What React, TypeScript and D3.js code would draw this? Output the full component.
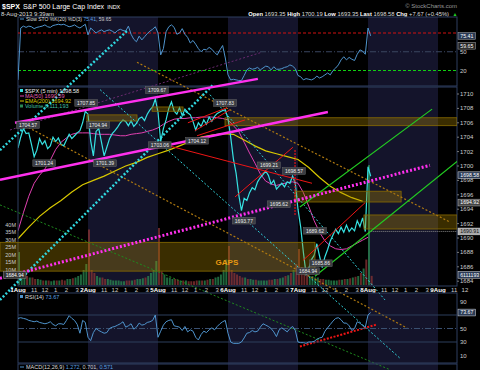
import * as d3 from 'd3'

// time axis: one step = 15 minutes, 26 steps per session (9:30 - 16:00)
const STEPS_PER_DAY = 26
const DAY_LABELS = ['1Aug', '2Aug', '5Aug', '6Aug', '7Aug', '8Aug', '9Aug']
const SHADED_DAYS = [1, 3, 5]
const HOUR_LABELS = ['11', '12', '1', '2', '3']
const HOUR_STEPS = [6, 10, 14, 18, 22]

// $SPX 15-min closes
const PRICE_1AUG = [1702.5, 1704.0, 1705.2, 1704.5, 1704.6, 1703.0, 1701.3, 1702.2, 1703.8, 1703.0, 1703.5, 1702.4, 1702.8, 1704.0, 1703.4, 1703.9, 1703.0, 1702.8, 1703.6, 1704.4, 1703.8, 1704.2, 1704.6, 1704.9, 1706.0, 1707.6]
const PRICE_2AUG = [1707.2, 1703.5, 1701.4, 1704.8, 1705.2, 1703.3, 1701.4, 1702.6, 1703.8, 1704.5, 1704.9, 1705.4, 1706.0, 1706.4, 1706.2, 1705.6, 1706.3, 1705.5, 1705.9, 1706.6, 1706.8, 1706.3, 1707.2, 1707.8, 1708.2, 1709.3]
const PRICE_5AUG = [1707.5, 1703.4, 1705.2, 1706.4, 1708.0, 1708.9, 1707.6, 1707.2, 1708.1, 1707.0, 1707.9, 1707.4, 1707.1, 1706.2, 1705.0, 1706.0, 1705.5, 1706.4, 1705.8, 1706.8, 1706.2, 1706.9, 1707.3, 1707.5, 1707.7, 1707.8]
const PRICE_6AUG = [1706.6, 1704.0, 1701.0, 1699.0, 1696.0, 1693.8, 1695.5, 1695.2, 1696.3, 1697.0, 1696.7, 1697.8, 1698.4, 1698.8, 1699.3, 1698.7, 1697.5, 1698.0, 1696.8, 1697.2, 1697.6, 1697.1, 1697.8, 1697.6, 1698.6, 1697.6]
const PRICE_7AUG = [1694.0, 1691.5, 1688.0, 1685.0, 1685.8, 1687.0, 1687.6, 1689.2, 1687.5, 1685.9, 1687.4, 1688.4, 1689.6, 1690.4, 1691.2, 1690.6, 1691.5, 1690.8, 1691.8, 1690.9, 1691.4, 1691.0, 1692.4, 1691.6, 1692.8, 1690.9]
const PRICE_8AUG = [1699.9, 1698.58]
const PRICE = [...PRICE_1AUG, ...PRICE_2AUG, ...PRICE_5AUG, ...PRICE_6AUG, ...PRICE_7AUG, ...PRICE_8AUG]

// volume, millions per 5-min bar
const VOL_1AUG = [22, 9, 7, 6, 5, 5, 4, 4, 3.5, 3, 3, 3, 2.5, 3, 3, 3, 3.5, 3, 4, 4, 4.5, 5, 6, 7, 10, 14]
const VOL_2AUG = [37, 10, 8, 6, 5, 5, 4, 4, 3.5, 3, 3, 3, 2.5, 2.5, 3, 3, 3, 3.5, 4, 4, 4.5, 5, 6, 8, 10, 16]
const VOL_5AUG = [38, 9, 7, 5, 5, 4, 4, 3.5, 3, 3, 3, 2.5, 2.5, 2.5, 3, 3, 3, 3, 3.5, 4, 4, 5, 5.5, 7, 10, 17]
const VOL_6AUG = [26, 10, 8, 7, 6, 5, 5, 4, 4, 3.5, 3.5, 3, 3, 3, 3, 3.5, 3.5, 4, 4, 4.5, 5, 6, 6.5, 8, 10, 14]
const VOL_7AUG = [24, 12, 9, 8, 6, 6, 5, 5, 4, 4, 3.5, 3.5, 3, 3, 3, 3.5, 3.5, 4, 4, 4.5, 5, 5.5, 6, 8, 11, 17]
const VOL_8AUG = [80, 6.1]
const VOLUME = [...VOL_1AUG, ...VOL_2AUG, ...VOL_5AUG, ...VOL_6AUG, ...VOL_7AUG, ...VOL_8AUG]
const VOL_TICKS = [10, 15, 20, 25, 30, 35, 40]

// MA(50), one value every 2 steps
const MA_STEP = 2
const MA50 = [1691.0, 1693.5, 1695.8, 1697.6, 1698.7, 1699.6, 1700.8, 1702.3, 1703.3, 1703.9, 1704.4, 1704.6, 1704.6, 1704.6, 1704.5, 1704.4, 1704.4, 1704.4, 1704.3, 1704.2, 1704.2, 1704.4, 1704.5, 1704.6, 1704.8, 1705.0, 1705.3, 1705.8, 1706.2, 1706.5, 1706.6, 1706.6, 1706.7, 1706.7, 1706.8, 1706.8, 1706.8, 1706.7, 1706.6, 1706.4, 1705.6, 1704.8, 1703.3, 1701.8, 1700.4, 1698.9, 1697.9, 1697.5, 1697.3, 1697.5, 1697.7, 1697.8, 1697.6, 1696.3, 1694.4, 1692.4, 1690.8, 1689.6, 1688.9, 1688.5, 1688.4, 1688.5, 1688.9, 1689.3, 1689.7, 1690.1]
// EMA(200), one value every 4 steps
const EMA_STEP = 4
const EMA200 = [1689.9, 1691.5, 1693.0, 1694.2, 1695.2, 1696.4, 1697.4, 1698.0, 1698.6, 1699.3, 1700.0, 1700.5, 1701.2, 1701.7, 1702.2, 1702.8, 1703.4, 1704.0, 1704.3, 1704.5, 1704.4, 1703.6, 1702.8, 1702.1, 1701.7, 1701.3, 1700.9, 1699.8, 1698.4, 1697.2, 1696.3, 1695.6, 1695.1]

const STO = [
  5, 88, 91, 89, 91, 90, 87, 89, 90, 91, 93, 90, 89, 92, 93, 94, 93, 94, 92, 90, 91, 93, 90, 88, 91, 94,
  77, 88, 84, 80, 83, 85, 82, 84, 85, 83, 80, 84, 86, 84, 83, 91, 78, 70, 66, 75, 69, 74, 79, 83, 86, 90,
  80, 45, 55, 82, 90, 93, 89, 78, 80, 87, 78, 73, 64, 68, 62, 55, 50, 54, 53, 57, 54, 49, 45, 53, 60, 40,
  13, 5, 6, 5, 4, 4, 12, 21, 24, 22, 23, 25, 21, 24, 27, 26, 21, 26, 22, 22, 23, 25, 26, 29, 27, 23,
  12, 10, 5, 7, 6, 5, 7, 11, 8, 10, 13, 16, 13, 20, 24, 29, 37, 42, 37, 41, 38, 36, 46, 53, 51, 46,
  88, 75.41
]
const RSI = [
  65, 66, 65, 64, 62, 61, 60, 61, 59, 58, 57, 58, 60, 56, 54, 57, 57, 56, 62, 69, 65, 62, 56, 43, 62, 59,
  37, 32, 44, 50, 47, 45, 43, 44, 50, 52, 53, 55, 57, 60, 52, 54, 57, 49, 52, 58, 55, 56, 59, 60, 62, 70,
  37, 46, 55, 60, 62, 63, 54, 53, 52, 47, 53, 45, 48, 46, 37, 33, 41, 46, 44, 48, 51, 48, 53, 57, 60, 62,
  43, 30, 28, 28, 28, 30, 36, 43, 44, 47, 45, 46, 52, 57, 55, 53, 50, 45, 38, 48, 51, 48, 45, 50, 53, 47,
  30, 29, 29, 28, 30, 30, 31, 34, 36, 37, 46, 51, 56, 61, 65, 66, 63, 58, 58, 54, 47, 50, 60, 58, 54, 52,
  70, 73.67
]

const PRICE_TICKS = d3.range(1684, 1711, 2)
const STO_TICKS = [50, 20]
const RSI_TICKS = [90, 50, 30, 10]

// hand-drawn annotations, [step, price]
const LINES_MAGENTA = [[[-1.1, 1706.0], [89.1, 1712.1]], [[-6.7, 1698.1], [115.1, 1707.5]]]
const LINES_MAGENTA_DOTS = [[[-6.7, 1684.4], [153.0, 1700.1]]]
const LINES_PURPLE = [[[-3.0, 1705.0], [90.6, 1715.8]]]
const LINES_CYAN_THICK = [[[-6.7, 1702.2], [40.9, 1718.9]], [[-6.7, 1681.4], [72.8, 1711.4]]]
const LINES_CYAN_THIN = [[[30.5, 1710.6], [141.9, 1673.3]], [[71.3, 1709.9], [136.3, 1681.4]]]
const LINES_ORANGE = [[[2.6, 1705.6], [144.5, 1677.5]], [[44.2, 1714.4], [160.5, 1692.2]]]
const LINES_DKGREEN = [[[-6.7, 1694.6], [138.2, 1671.7]]]
const LINES_GREEN = [[[104.7, 1694.3], [153.8, 1707.9]], [[110.3, 1684.7], [171.6, 1703.2]]]
const LINES_RED = [
  [[52.0, 1703.2], [109.2, 1697.6]], [[80.6, 1695.7], [102.1, 1702.6]],
  [[63.1, 1706.0], [77.6, 1708.1]], [[65.7, 1704.9], [78.7, 1707.8]], [[66.5, 1704.2], [84.3, 1706.4]],
  [[105.9, 1686.9], [128.9, 1694.9]]
]
const LINE_RED_MARK = [[102.9, 1702.2], [102.9, 1693.2]]
const LINE_RSI_RED = [[104.7, 23.3], [133.3, 55.9]]

// [fromStep, toStep, topPrice, bottomPrice]
const GAP_ZONES = [
  [-6.7, 110.3, 1689.4, 1685.4], [25.6, 44.2, 1707.1, 1706.25], [49.8, 61.3, 1708.2, 1707.6],
  [76.9, 163.1, 1706.7, 1705.6], [102.9, 142.3, 1696.5, 1695.0], [128.5, 163.1, 1693.2, 1691.25]
]

// [step, price, text]
const PRICE_NOTES = [
  [3.7, 1705.7, '1704.57'], [25.3, 1708.75, '1707.85'], [29.7, 1705.7, '1704.94'], [9.7, 1700.4, '1701.24'],
  [32.3, 1700.4, '1701.39'], [51.6, 1710.55, '1709.67'], [76.9, 1708.75, '1707.83'], [52.7, 1702.9, '1703.06'],
  [66.5, 1703.5, '1704.12'], [83.9, 1692.4, '1693.77'], [93.2, 1700.1, '1699.21'], [102.5, 1699.3, '1698.57'],
  [96.9, 1694.7, '1695.62'], [110.3, 1691.0, '1689.62'], [112.5, 1686.5, '1685.86'], [107.7, 1685.4, '1684.94']
]

const LAST_PRICE = 1698.58
const LAST_EMA = 1694.92
const PREV_CLOSE = 1690.91
const LAST_VOL = 6.111193
const LAST_STO = [75.41, 59.65]
const LAST_RSI = 73.67

const FONT = 'Liberation Sans, Arial, sans-serif'
const L = 18
const R = 457

function Tag({ x, y, text, anchor = 'middle', fill = '#333', stroke = '#999', color = '#fff', size = 5 }) {
  const w = text.length * size * 0.56 + 3
  const h = size + 1.6
  const left = anchor === 'middle' ? x - w / 2 : anchor === 'end' ? x - w : x
  return (
    <g>
      <rect x={left} y={y - h / 2} width={w} height={h} fill={fill} stroke={stroke} strokeWidth={0.5} />
      <text x={left + w / 2} y={y + size * 0.36} textAnchor="middle" fontSize={size} fill={color}>{text}</text>
    </g>
  )
}

export default function App() {
  const x = d3.scaleLinear().domain([0, STEPS_PER_DAY]).range([L, 88])
  const yP = d3.scaleLinear().domain([1684, 1710]).range([281.2, 94])
  const yV = d3.scaleLinear().domain([0, 40]).range([285, 225])
  const yS = d3.scaleLinear().domain([20, 80]).range([70.5, 33])
  const yR = d3.scaleLinear().domain([30, 70]).range([342, 315])

  const priceLine = d3.line<number>().x((_, i) => x(i)).y(d => yP(d))
  const maLine = d3.line<number>().x((_, i) => x(i * MA_STEP)).y(d => yP(d))
  const emaLine = d3.line<number>().x((_, i) => x(i * EMA_STEP)).y(d => yP(d))
  const stoLine = d3.line<number>().x((_, i) => x(i)).y(d => yS(d))
  const rsiLine = d3.line<number>().x((_, i) => x(i)).y(d => yR(d))
  const seg = d3.line<number[]>().x(d => x(d[0])).y(d => yP(d[1]))
  const rsiSeg = d3.line<number[]>().x(d => x(d[0])).y(d => yR(d[1]))

  const dayW = x(STEPS_PER_DAY) - x(0)
  const barW = x(1) - x(0) - 0.7

  const panelStroke = '#2f3f60'
  const trend = (lines, props) => lines.map((l, i) => <path key={i} d={seg(l)} fill="none" {...props} />)

  return (
    <svg width={480} height={370} style={{ display: 'block', background: '#000' }} fontFamily={FONT}>
      <style>{`body{margin:0}`}</style>
      <defs>
        <clipPath id="main"><rect x={L} y={87} width={R - L} height={199} /></clipPath>
        <clipPath id="sto"><rect x={L} y={17} width={R - L} height={69} /></clipPath>
        <clipPath id="rsi"><rect x={L} y={293} width={R - L} height={70} /></clipPath>
        <clipPath id="ann"><rect x={0} y={17} width={R} height={353} /></clipPath>
      </defs>
      <rect width={480} height={370} fill="#000" />

      {/* day shading */}
      {SHADED_DAYS.map(d => (
        <g key={d}>
          <rect x={x(d * STEPS_PER_DAY)} y={17} width={dayW} height={69} fill="#14142b" />
          <rect x={x(d * STEPS_PER_DAY)} y={87} width={dayW} height={199} fill="#14142b" />
          <rect x={x(d * STEPS_PER_DAY)} y={293} width={dayW} height={77} fill="#14142b" />
        </g>
      ))}

      {/* header */}
      <text x={2} y={9} fontSize={7} fill="#fff">
        <tspan fontWeight="bold">$SPX</tspan>
        <tspan dx={3}>S&amp;P 500 Large Cap Index</tspan>
        <tspan dx={3} fontSize={5.5}>INDX</tspan>
      </text>
      <text x={1} y={16} fontSize={6} fill="#ddd">8-Aug-2013 9:39am</text>
      <text x={457} y={8} fontSize={6} fill="#999" textAnchor="end">© StockCharts.com</text>
      <text x={449} y={15.5} fontSize={5.8} fill="#ddd" textAnchor="end">
        <tspan fontWeight="bold" fill="#fff">Open</tspan> 1693.35 <tspan fontWeight="bold" fill="#fff">High</tspan> 1700.19 <tspan fontWeight="bold" fill="#fff">Low</tspan> 1693.35 <tspan fontWeight="bold" fill="#fff">Last</tspan> 1698.58 <tspan fontWeight="bold" fill="#fff">Chg</tspan> +7.67 (+0.45%)
      </text>
      <text x={455} y={15.5} fontSize={5} fill="#2c2" textAnchor="middle">▲</text>

      {/* STO panel */}
      <rect x={L} y={17} width={R - L} height={69} fill="none" stroke={panelStroke} />
      <line x1={L} x2={R} y1={yS(80)} y2={yS(80)} stroke="#d01010" strokeDasharray="3,2" />
      <line x1={L} x2={R} y1={yS(50)} y2={yS(50)} stroke="#3a4660" strokeDasharray="6,2,1,2" />
      <line x1={L} x2={R} y1={yS(20)} y2={yS(20)} stroke="#10d010" strokeDasharray="3,2" />
      <path d={stoLine(STO)} fill="none" stroke="#4f94cd" strokeWidth={1} clipPath="url(#sto)" />
      <rect x={20} y={18.5} width={4} height={1} fill="#4f94cd" />
      <text x={26} y={21} fontSize={5} fill="#ddd">Slow STO %K(20) %D(3) <tspan fill="#5aa0e0">{LAST_STO[0]}</tspan>, <tspan fill="#ccc">{LAST_STO[1]}</tspan></text>
      {STO_TICKS.map(t => <text key={t} x={460} y={yS(t) + 2} fontSize={6} fill="#ccc">{t}</text>)}
      <Tag x={458} y={yS(LAST_STO[0])} text={String(LAST_STO[0])} anchor="start" fill="#2a3a55" stroke="#aaa" size={5.2} />
      <Tag x={458} y={yS(LAST_STO[1])} text={String(LAST_STO[1])} anchor="start" fill="#222" stroke="#aaa" size={5.2} />

      {/* main panel */}
      <g clipPath="url(#main)">
        {VOLUME.map((v, i) => {
          const up = i === 0 || PRICE[i] >= PRICE[i - 1]
          return <rect key={i} x={x(i)} y={yV(v)} width={barW} height={yV(0) - yV(v)} fill={up ? '#2b8a52' : '#8a3434'} fillOpacity={0.75} />
        })}
        <path d={maLine(MA50)} fill="none" stroke="#e040b0" strokeWidth={1} />
        <path d={emaLine(EMA200)} fill="none" stroke="#d8c800" strokeWidth={1.2} />
        <path d={priceLine(PRICE)} fill="none" stroke="#36e2e2" strokeWidth={1.2} />
        <line x1={x(PRICE.length - 1)} x2={R} y1={yP(PREV_CLOSE)} y2={yP(PREV_CLOSE)} stroke="#888" strokeDasharray="1,1" />
      </g>
      <rect x={L} y={87} width={R - L} height={199} fill="none" stroke={panelStroke} />

      {/* annotations */}
      <g clipPath="url(#ann)">
        {GAP_ZONES.map((g, i) => (
          <rect key={i} x={x(g[0])} y={yP(g[2])} width={x(g[1]) - x(g[0])} height={yP(g[3]) - yP(g[2])}
            fill="#b08800" fillOpacity={0.33} stroke="#8a6c00" strokeWidth={0.8} />
        ))}
        <text x={x(77.6)} y={yP(1686.3)} fontSize={8} fontWeight="bold" fill="#e89a10" textAnchor="middle">GAPS</text>
        {trend(LINES_DKGREEN, { stroke: '#1e8a1e', strokeWidth: 1, strokeDasharray: '2,2' })}
        {trend(LINES_ORANGE, { stroke: '#b07a10', strokeWidth: 1.2, strokeDasharray: '2,2' })}
        {trend(LINES_PURPLE, { stroke: '#6a2a70', strokeWidth: 1, strokeDasharray: '2,2' })}
        {trend(LINES_CYAN_THIN, { stroke: '#30d0d8', strokeWidth: 1, strokeDasharray: '2,2' })}
        {trend(LINES_CYAN_THICK, { stroke: '#30d8e0', strokeWidth: 2.5, strokeDasharray: '2,2' })}
        {trend(LINES_GREEN, { stroke: '#22cc22', strokeWidth: 1.2 })}
        {trend(LINES_RED, { stroke: '#ee1515', strokeWidth: 1 })}
        <path d={seg(LINE_RED_MARK)} stroke="#ee1515" strokeWidth={1.5} strokeDasharray="1.5,1.5" />
        {trend(LINES_MAGENTA, { stroke: '#ff30ee', strokeWidth: 2.5 })}
        {trend(LINES_MAGENTA_DOTS, { stroke: '#ff30ee', strokeWidth: 3, strokeDasharray: '2,2' })}
        <path d={rsiSeg(LINE_RSI_RED)} stroke="#ee1515" strokeWidth={2} strokeDasharray="2,1.5" />
      </g>

      {PRICE_NOTES.map((n, i) => (
        <Tag key={i} x={x(n[0])} y={yP(n[1])} text={n[2]} fill="#3a3d44" stroke="#6a6a6a" color="#eee" />
      ))}

      {/* main legend */}
      <g fontSize={5.5}>
        <rect x={20} y={89} width={3} height={3} fill="#36e2e2" />
        <text x={25} y={93} fill="#eee">$SPX (5 min) {LAST_PRICE}</text>
        <rect x={20} y={95.5} width={4} height={1} fill="#e040b0" />
        <text x={25} y={98} fill="#e060b0">MA(50) 1690.59</text>
        <rect x={20} y={100.5} width={4} height={1} fill="#d8c800" />
        <text x={25} y={103} fill="#d8c800">EMA(200) {LAST_EMA}</text>
        <rect x={20} y={104.5} width={3} height={3} fill="#2b8a52" />
        <text x={25} y={108} fill="#40c0a0">Volume 6,111,193</text>
      </g>

      {/* price axis */}
      {PRICE_TICKS.map(t => (
        <g key={t}>
          <line x1={R} x2={R + 2} y1={yP(t)} y2={yP(t)} stroke="#777" />
          <text x={460} y={yP(t) + 2} fontSize={6} fill="#ccc">{t}</text>
        </g>
      ))}
      <Tag x={458} y={yP(LAST_PRICE) - 1} text={String(LAST_PRICE)} anchor="start" fill="#2a3a55" stroke="#ddd" size={5.2} />
      <Tag x={458} y={yP(LAST_EMA)} text={String(LAST_EMA)} anchor="start" fill="#444" stroke="#bbb" size={5.2} />
      <Tag x={458} y={yP(PREV_CLOSE)} text={String(PREV_CLOSE)} anchor="start" fill="#aaa" stroke="#ddd" color="#111" size={5.2} />
      <Tag x={458} y={yV(LAST_VOL) - 1} text="6111193" anchor="start" fill="#2a3a55" stroke="#ddd" size={5.2} />

      {/* volume axis */}
      {VOL_TICKS.map(t => <text key={t} x={16} y={yV(t) + 1.5} fontSize={5.5} fill="#ccc" textAnchor="end">{t}M</text>)}
      <Tag x={26} y={yP(1684.94) + 0.5} text="1684.94" anchor="end" fill="#333" stroke="#888" />

      {/* time axis */}
      {DAY_LABELS.map((d, i) => (
        <text key={d} x={x(i * STEPS_PER_DAY)} y={292} fontSize={6.2} fontWeight="bold" fill="#fff" textAnchor="middle">{d}</text>
      ))}
      {DAY_LABELS.map((d, i) => HOUR_LABELS.map((h, j) => {
        const xx = x(i * STEPS_PER_DAY + HOUR_STEPS[j])
        return xx < 470 ? <text key={d + h} x={xx} y={292} fontSize={6} fill="#ccc" textAnchor="middle">{h}</text> : null
      }))}

      {/* RSI panel */}
      <rect x={L} y={293} width={R - L} height={70} fill="none" stroke={panelStroke} />
      <line x1={L} x2={R} y1={yR(70)} y2={yR(70)} stroke="#2c3e5c" />
      <line x1={L} x2={R} y1={yR(30)} y2={yR(30)} stroke="#2c3e5c" />
      <line x1={L} x2={R} y1={yR(50)} y2={yR(50)} stroke="#3a5070" strokeDasharray="6,2,1,2" />
      <path d={rsiLine(RSI)} fill="none" stroke="#4f94cd" strokeWidth={1} clipPath="url(#rsi)" />
      <rect x={20} y={295} width={3} height={3} fill="#4f94cd" />
      <text x={25} y={299} fontSize={5.5} fill="#ddd">RSI(14) <tspan fill="#5aa0e0">{LAST_RSI}</tspan></text>
      {RSI_TICKS.map(t => <text key={t} x={460} y={yR(t) + 2} fontSize={6} fill="#ccc">{t}</text>)}
      <Tag x={458} y={yR(LAST_RSI)} text={String(LAST_RSI)} anchor="start" fill="#2a3a55" stroke="#ddd" size={5.2} />

      {/* MACD panel */}
      <rect x={L} y={364} width={R - L} height={10} fill="none" stroke={panelStroke} />
      <rect x={20} y={366.5} width={4} height={1} fill="#4f94cd" />
      <text x={26} y={369} fontSize={5.5} fill="#ddd">MACD(12,26,9) <tspan fill="#5aa0e0">1.272</tspan>, <tspan fill="#ccc">0.701</tspan>, <tspan fill="#5aa0e0">0.571</tspan></text>
    </svg>
  )
}
